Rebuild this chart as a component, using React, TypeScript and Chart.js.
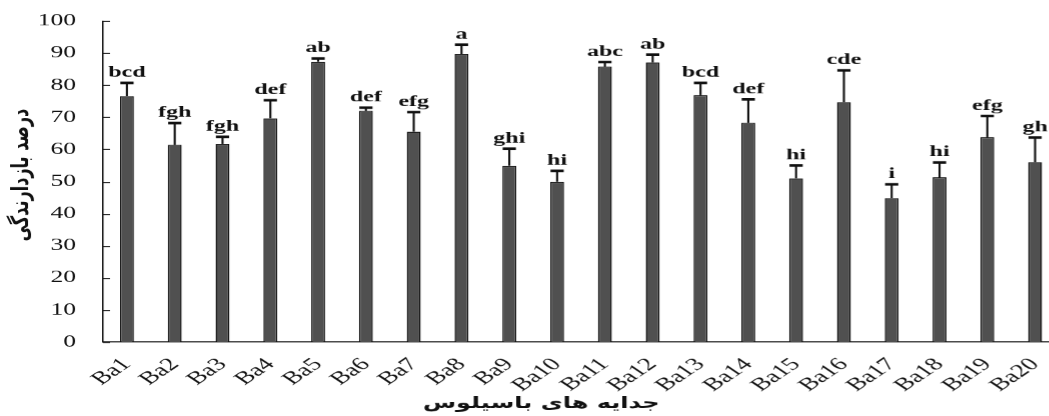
import React, { useEffect, useRef } from "react";
import { Chart, registerables } from "chart.js";

Chart.register(...registerables);

const categories = ["Ba1","Ba2","Ba3","Ba4","Ba5","Ba6","Ba7","Ba8","Ba9","Ba10","Ba11","Ba12","Ba13","Ba14","Ba15","Ba16","Ba17","Ba18","Ba19","Ba20"];
const values = [76.6, 61.4, 61.7, 69.7, 87.3, 72.0, 65.5, 89.7, 54.9, 49.9, 85.8, 87.1, 76.9, 68.3, 51.0, 74.7, 44.8, 51.3, 63.8, 56.0];
const errors = [4.2, 6.9, 2.3, 5.7, 1.1, 1.1, 6.2, 3.0, 5.4, 3.5, 1.5, 2.5, 3.9, 7.4, 4.1, 10.0, 4.4, 4.7, 6.7, 7.8];
const letters = ["bcd","fgh","fgh","def","ab","def","efg","a","ghi","hi","abc","ab","bcd","def","hi","cde","i","hi","efg","gh"];
const yTicks = [0, 10, 20, 30, 40, 50, 60, 70, 80, 90, 100];
const yTitle = "درصد بازدارندگی";
const xTitle = "جدایه های باسیلوس";

const STRETCH = 1.5;
const LOGICAL_W = 709;
const H = 416;

export default function App() {
  const ref = useRef<HTMLCanvasElement | null>(null);

  useEffect(() => {
    if (!ref.current) return;
    const extras = {
      id: "extras",
      afterDatasetsDraw(chart: any) {
        const ctx = chart.ctx;
        const ys = chart.scales.y;
        const meta = chart.getDatasetMeta(0);
        ctx.save();
        // inner y tick marks
        ctx.strokeStyle = "#111";
        ctx.lineWidth = 1;
        yTicks.forEach((t) => {
          const y = Math.round(ys.getPixelForValue(t)) + 0.5;
          ctx.beginPath();
          ctx.moveTo(chart.chartArea.left, y);
          ctx.lineTo(chart.chartArea.left + 7 / STRETCH, y);
          ctx.stroke();
        });
        // error bars + letters
        meta.data.forEach((bar: any, i: number) => {
          const x = bar.x;
          const yv = ys.getPixelForValue(values[i]);
          const yt = ys.getPixelForValue(values[i] + errors[i]);
          ctx.fillStyle = "#111";
          ctx.fillRect(x - 0.7, yt, 1.4, yv - yt);
          ctx.fillRect(x - 4.4, yt - 1, 8.8, 2.6);
          ctx.font = "bold 16px 'Liberation Serif'";
          ctx.textAlign = "center";
          ctx.textBaseline = "alphabetic";
          ctx.fillStyle = "#111";
          ctx.fillText(letters[i], x, yt - 6);
        });
        // axis titles
        ctx.font = "bold 16px 'DejaVu Sans'";
        ctx.textAlign = "center";
        ctx.textBaseline = "middle";
        ctx.fillStyle = "#111";
        ctx.fillText(xTitle, 541 / STRETCH, 404);
        ctx.translate(22 / STRETCH, 175);
        ctx.rotate(-Math.PI / 2);
        ctx.fillText(yTitle, 0, 0);
        ctx.restore();
      },
    };

    const chart = new Chart(ref.current, {
      type: "bar",
      data: {
        labels: categories,
        datasets: [
          {
            data: values,
            backgroundColor: "#505050",
            borderColor: "#111111",
            borderWidth: 1,
            barPercentage: 0.29,
            categoryPercentage: 1,
          },
        ],
      },
      options: {
        animation: false,
        responsive: false,
        devicePixelRatio: 1.5,
        layout: { padding: { top: 21, left: 0, right: 0, bottom: 0 } },
        plugins: { legend: { display: false }, tooltip: { enabled: false } },
        scales: {
          x: {
            grid: { display: false },
            border: { display: true, color: "#111", width: 1 },
            ticks: {
              minRotation: 45,
              maxRotation: 45,
              autoSkip: false,
              padding: 4,
              color: "#111",
              font: { family: "'Liberation Serif'", size: 18 },
            },
            afterFit: (s: any) => {
              s.height = 74;
            },
          },
          y: {
            min: 0,
            max: 100,
            grid: { display: false },
            border: { display: true, color: "#111", width: 1 },
            ticks: {
              stepSize: 10,
              padding: 10,
              color: "#111",
              font: { family: "'Liberation Serif'", size: 17 },
            },
            afterFit: (s: any) => {
              s.width = 103 / STRETCH;
            },
          },
        },
      },
      plugins: [extras],
    });
    return () => chart.destroy();
  }, []);

  return (
    <div style={{ position: "fixed", left: 0, top: 0, width: 1049, height: H, overflow: "hidden", background: "#fff" }}>
      <div style={{ width: LOGICAL_W, height: H, transform: `scaleX(${STRETCH})`, transformOrigin: "0 0" }}>
        <canvas ref={ref} width={LOGICAL_W} height={H} />
      </div>
    </div>
  );
}
